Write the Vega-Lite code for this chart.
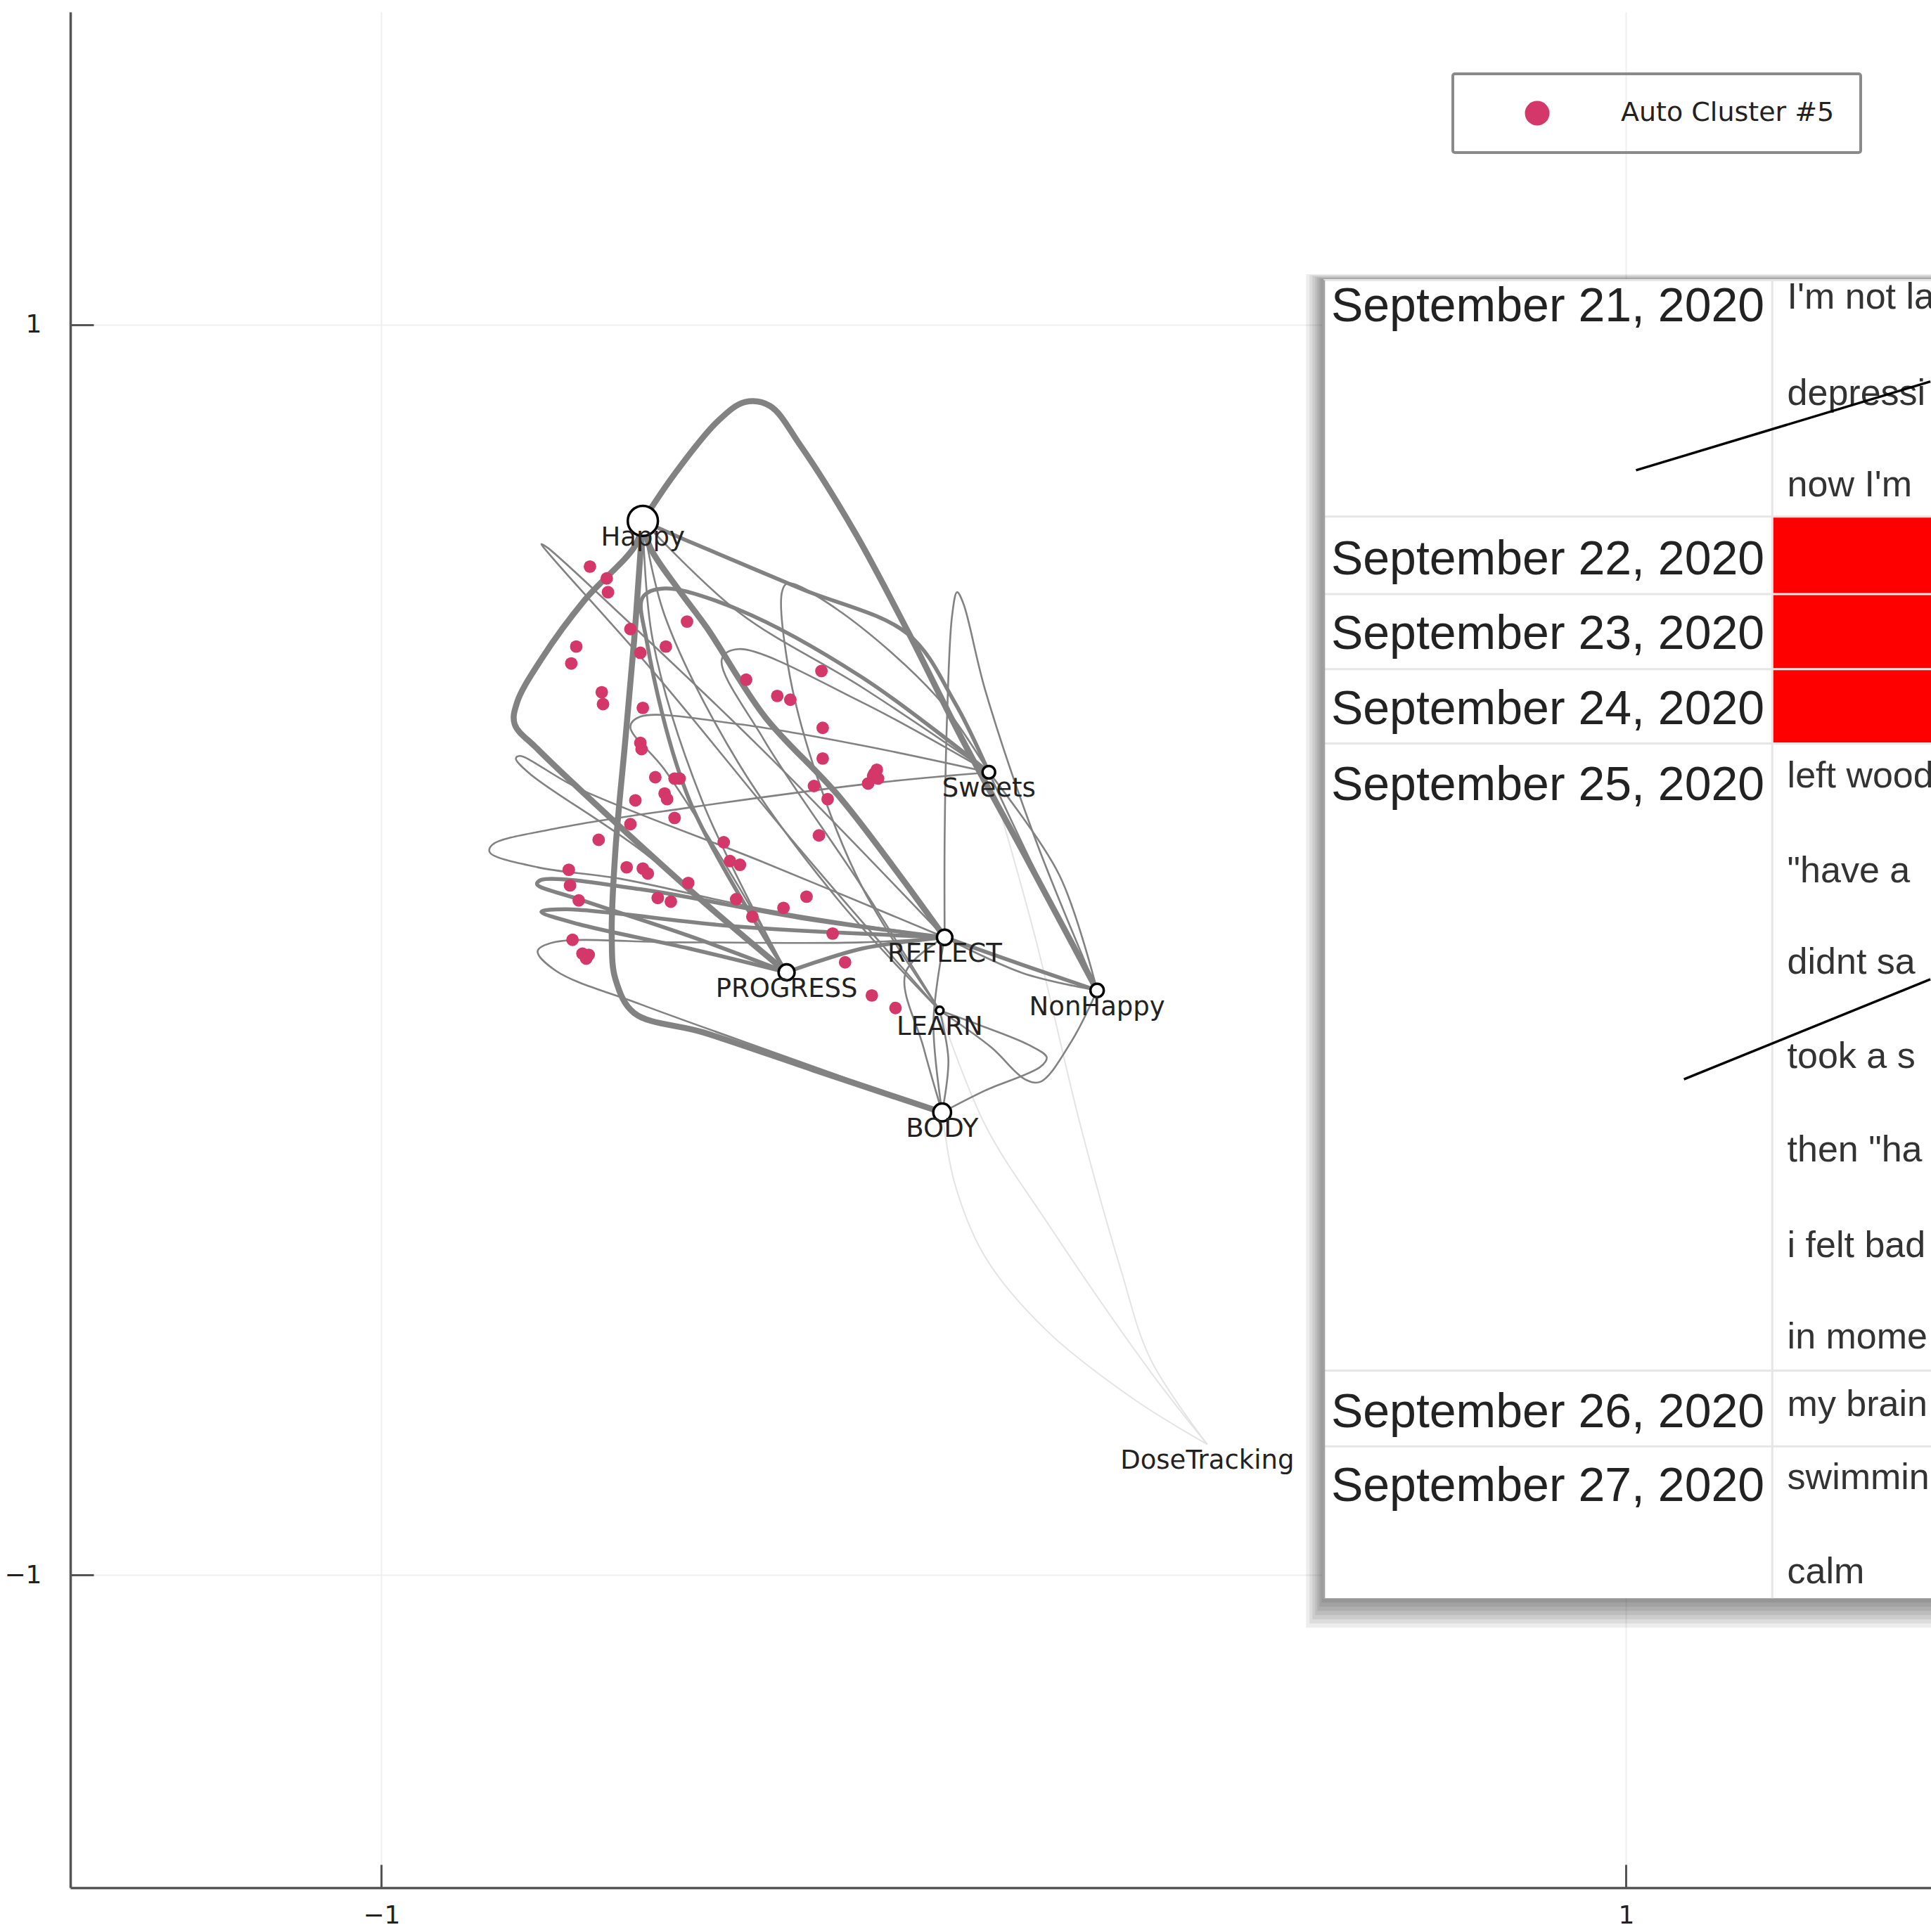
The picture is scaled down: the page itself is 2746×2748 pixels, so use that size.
{
  "$schema": "https://vega.github.io/schema/vega-lite/v6.json",
  "width": 2646,
  "height": 2668,
  "autosize": {"type": "none"},
  "padding": {"left": 100, "top": 17, "right": 0, "bottom": 63},
  "background": "white",
  "config": {
    "view": {"stroke": null},
    "axis": {
      "grid": true, "gridColor": "#efefef", "gridWidth": 2,
      "domainColor": "#555555", "domainWidth": 3.5,
      "tickColor": "#555555", "tickWidth": 3, "tickSize": -33,
      "labelFont": "DejaVu Sans", "labelFontSize": 36, "labelColor": "#222222"
    },
    "axisX": {"labelPadding": 55},
    "axisY": {"labelPadding": 74}
  },
  "datasets": {
    "edges": [
      {"e":"E1","i":0,"x":-0.580,"y":0.686,"w":4},{"e":"E1","i":1,"x":-0.529,"y":0.761,"w":4},{"e":"E1","i":2,"x":-0.459,"y":0.846,"w":4},{"e":"E1","i":3,"x":-0.416,"y":0.876,"w":4},{"e":"E1","i":4,"x":-0.376,"y":0.870,"w":4},{"e":"E1","i":5,"x":-0.327,"y":0.807,"w":4},{"e":"E1","i":6,"x":-0.240,"y":0.669,"w":4},{"e":"E1","i":7,"x":-0.154,"y":0.509,"w":4},{"e":"E1","i":8,"x":-0.069,"y":0.341,"w":4},{"e":"E1","i":9,"x":0.040,"y":0.140,"w":4},{"e":"E1","i":10,"x":0.150,"y":-0.065,"w":4},
      {"e":"E2","i":0,"x":-0.580,"y":0.686,"w":4},{"e":"E2","i":1,"x":-0.592,"y":0.647,"w":4},{"e":"E2","i":2,"x":-0.673,"y":0.560,"w":4},{"e":"E2","i":3,"x":-0.743,"y":0.465,"w":4},{"e":"E2","i":4,"x":-0.782,"y":0.396,"w":4},{"e":"E2","i":5,"x":-0.786,"y":0.361,"w":4},{"e":"E2","i":6,"x":-0.749,"y":0.321,"w":4},{"e":"E2","i":7,"x":-0.632,"y":0.211,"w":4},{"e":"E2","i":8,"x":-0.483,"y":0.077,"w":4},{"e":"E2","i":9,"x":-0.349,"y":-0.036,"w":4},
      {"e":"E3","i":0,"x":-0.580,"y":0.686,"w":4},{"e":"E3","i":1,"x":-0.584,"y":0.633,"w":4},{"e":"E3","i":2,"x":-0.594,"y":0.495,"w":4},{"e":"E3","i":3,"x":-0.608,"y":0.337,"w":4},{"e":"E3","i":4,"x":-0.624,"y":0.160,"w":4},{"e":"E3","i":5,"x":-0.630,"y":0.022,"w":4},{"e":"E3","i":6,"x":-0.624,"y":-0.047,"w":4},{"e":"E3","i":7,"x":-0.594,"y":-0.101,"w":4},{"e":"E3","i":8,"x":-0.483,"y":-0.132,"w":4},{"e":"E3","i":9,"x":-0.307,"y":-0.191,"w":4},{"e":"E3","i":10,"x":-0.099,"y":-0.260,"w":4},
      {"e":"E4","i":0,"x":-0.580,"y":0.686,"w":4},{"e":"E4","i":1,"x":-0.568,"y":0.643,"w":4},{"e":"E4","i":2,"x":-0.521,"y":0.574,"w":4},{"e":"E4","i":3,"x":-0.477,"y":0.515,"w":4},{"e":"E4","i":4,"x":-0.384,"y":0.373,"w":4},{"e":"E4","i":5,"x":-0.261,"y":0.241,"w":4},{"e":"E4","i":6,"x":-0.095,"y":0.020,"w":4},
      {"e":"E5","i":0,"x":-0.580,"y":0.686,"w":3},{"e":"E5","i":1,"x":-0.515,"y":0.657,"w":3},{"e":"E5","i":2,"x":-0.327,"y":0.578,"w":3},{"e":"E5","i":3,"x":-0.154,"y":0.505,"w":3},{"e":"E5","i":4,"x":-0.079,"y":0.396,"w":3},{"e":"E5","i":5,"x":-0.024,"y":0.284,"w":3},
      {"e":"E6","i":0,"x":-0.095,"y":0.020,"w":3},{"e":"E6","i":1,"x":0.030,"y":-0.024,"w":3},{"e":"E6","i":2,"x":0.150,"y":-0.065,"w":3},
      {"e":"E6b","i":0,"x":-0.095,"y":0.020,"w":2},{"e":"E6b","i":1,"x":0.030,"y":-0.037,"w":2},{"e":"E6b","i":2,"x":0.150,"y":-0.065,"w":2},
      {"e":"E7a","i":0,"x":-0.095,"y":0.020,"w":3},{"e":"E7a","i":1,"x":-0.327,"y":0.051,"w":3},{"e":"E7a","i":2,"x":-0.584,"y":0.097,"w":3},{"e":"E7a","i":3,"x":-0.743,"y":0.112,"w":3},{"e":"E7a","i":4,"x":-0.750,"y":0.105,"w":3},{"e":"E7a","i":5,"x":-0.683,"y":0.081,"w":3},{"e":"E7a","i":6,"x":-0.505,"y":0.022,"w":3},{"e":"E7a","i":7,"x":-0.349,"y":-0.036,"w":3},
      {"e":"E7b","i":0,"x":-0.095,"y":0.020,"w":3},{"e":"E7b","i":1,"x":-0.426,"y":0.037,"w":3},{"e":"E7b","i":2,"x":-0.703,"y":0.065,"w":3},{"e":"E7b","i":3,"x":-0.743,"y":0.061,"w":3},{"e":"E7b","i":4,"x":-0.683,"y":0.041,"w":3},{"e":"E7b","i":5,"x":-0.505,"y":0.002,"w":3},{"e":"E7b","i":6,"x":-0.349,"y":-0.036,"w":3},
      {"e":"E7c","i":0,"x":-0.095,"y":0.020,"w":2},{"e":"E7c","i":1,"x":-0.228,"y":0.012,"w":2},{"e":"E7c","i":2,"x":-0.525,"y":0.012,"w":2},{"e":"E7c","i":3,"x":-0.723,"y":0.012,"w":2},{"e":"E7c","i":4,"x":-0.749,"y":-0.002,"w":2},{"e":"E7c","i":5,"x":-0.719,"y":-0.034,"w":2},{"e":"E7c","i":6,"x":-0.584,"y":-0.087,"w":2},{"e":"E7c","i":7,"x":-0.347,"y":-0.172,"w":2},{"e":"E7c","i":8,"x":-0.099,"y":-0.260,"w":2},
      {"e":"E8","i":0,"x":-0.024,"y":0.284,"w":2},{"e":"E8","i":1,"x":-0.196,"y":0.268,"w":2},{"e":"E8","i":2,"x":-0.509,"y":0.227,"w":2},{"e":"E8","i":3,"x":-0.715,"y":0.195,"w":2},{"e":"E8","i":4,"x":-0.822,"y":0.168,"w":2},{"e":"E8","i":5,"x":-0.826,"y":0.156,"w":2},{"e":"E8","i":6,"x":-0.749,"y":0.132,"w":2},{"e":"E8","i":7,"x":-0.618,"y":0.114,"w":2},{"e":"E8","i":8,"x":-0.386,"y":0.065,"w":2},{"e":"E8","i":9,"x":-0.095,"y":0.020,"w":2},
      {"e":"E9","i":0,"x":-0.095,"y":0.020,"w":2},{"e":"E9","i":1,"x":-0.095,"y":0.179,"w":2},{"e":"E9","i":2,"x":-0.091,"y":0.377,"w":2},{"e":"E9","i":3,"x":-0.083,"y":0.535,"w":2},{"e":"E9","i":4,"x":-0.075,"y":0.572,"w":2},{"e":"E9","i":5,"x":-0.065,"y":0.554,"w":2},{"e":"E9","i":6,"x":-0.030,"y":0.416,"w":2},{"e":"E9","i":7,"x":0.050,"y":0.179,"w":2},{"e":"E9","i":8,"x":0.150,"y":-0.065,"w":2},
      {"e":"E10","i":0,"x":-0.024,"y":0.284,"w":2},{"e":"E10","i":1,"x":0.059,"y":0.110,"w":2},{"e":"E10","i":2,"x":0.150,"y":-0.065,"w":2},
      {"e":"E10b","i":0,"x":-0.024,"y":0.284,"w":2},{"e":"E10b","i":1,"x":0.089,"y":0.120,"w":2},{"e":"E10b","i":2,"x":0.150,"y":-0.065,"w":2},
      {"e":"E11","i":0,"x":-0.095,"y":0.020,"w":2},{"e":"E11","i":1,"x":-0.386,"y":0.318,"w":2},{"e":"E11","i":2,"x":-0.624,"y":0.544,"w":2},{"e":"E11","i":3,"x":-0.733,"y":0.643,"w":2},{"e":"E11","i":4,"x":-0.743,"y":0.649,"w":2},{"e":"E11","i":5,"x":-0.727,"y":0.629,"w":2},{"e":"E11","i":6,"x":-0.564,"y":0.446,"w":2},{"e":"E11","i":7,"x":-0.327,"y":0.160,"w":2},{"e":"E11","i":8,"x":-0.103,"y":-0.097,"w":2},
      {"e":"E12","i":0,"x":-0.095,"y":0.020,"w":2},{"e":"E12","i":1,"x":-0.386,"y":0.140,"w":2},{"e":"E12","i":2,"x":-0.683,"y":0.258,"w":2},{"e":"E12","i":3,"x":-0.778,"y":0.310,"w":2},{"e":"E12","i":4,"x":-0.784,"y":0.306,"w":2},{"e":"E12","i":5,"x":-0.762,"y":0.282,"w":2},{"e":"E12","i":6,"x":-0.584,"y":0.160,"w":2},{"e":"E12","i":7,"x":-0.349,"y":-0.036,"w":2},
      {"e":"E13","i":0,"x":-0.024,"y":0.284,"w":2},{"e":"E13","i":1,"x":-0.109,"y":0.406,"w":2},{"e":"E13","i":2,"x":-0.267,"y":0.544,"w":2},{"e":"E13","i":3,"x":-0.347,"y":0.586,"w":2},{"e":"E13","i":4,"x":-0.356,"y":0.574,"w":2},{"e":"E13","i":5,"x":-0.347,"y":0.456,"w":2},{"e":"E13","i":6,"x":-0.307,"y":0.298,"w":2},{"e":"E13","i":7,"x":-0.228,"y":0.101,"w":2},{"e":"E13","i":8,"x":-0.103,"y":-0.097,"w":2},
      {"e":"E14","i":0,"x":-0.349,"y":-0.036,"w":2},{"e":"E14","i":1,"x":-0.426,"y":0.101,"w":2},{"e":"E14","i":2,"x":-0.545,"y":0.288,"w":2},{"e":"E14","i":3,"x":-0.600,"y":0.357,"w":2},{"e":"E14","i":4,"x":-0.584,"y":0.373,"w":2},{"e":"E14","i":5,"x":-0.426,"y":0.361,"w":2},{"e":"E14","i":6,"x":-0.228,"y":0.327,"w":2},{"e":"E14","i":7,"x":-0.024,"y":0.284,"w":2},
      {"e":"E15","i":0,"x":-0.349,"y":-0.036,"w":3},{"e":"E15","i":1,"x":-0.505,"y":0.239,"w":3},{"e":"E15","i":2,"x":-0.574,"y":0.495,"w":3},{"e":"E15","i":3,"x":-0.580,"y":0.564,"w":3},{"e":"E15","i":4,"x":-0.545,"y":0.578,"w":3},{"e":"E15","i":5,"x":-0.426,"y":0.544,"w":3},{"e":"E15","i":6,"x":-0.228,"y":0.436,"w":3},{"e":"E15","i":7,"x":-0.024,"y":0.284,"w":3},
      {"e":"E16","i":0,"x":-0.580,"y":0.686,"w":2},{"e":"E16","i":1,"x":-0.545,"y":0.535,"w":2},{"e":"E16","i":2,"x":-0.426,"y":0.298,"w":2},{"e":"E16","i":3,"x":-0.267,"y":0.081,"w":2},{"e":"E16","i":4,"x":-0.103,"y":-0.097,"w":2},
      {"e":"E17","i":0,"x":-0.580,"y":0.686,"w":2},{"e":"E17","i":1,"x":-0.564,"y":0.495,"w":2},{"e":"E17","i":2,"x":-0.485,"y":0.239,"w":2},{"e":"E17","i":3,"x":-0.349,"y":-0.036,"w":2},
      {"e":"E18","i":0,"x":-0.095,"y":0.020,"w":2},{"e":"E18","i":1,"x":-0.113,"y":-0.116,"w":2},{"e":"E18","i":2,"x":-0.099,"y":-0.260,"w":2},
      {"e":"E18b","i":0,"x":-0.103,"y":-0.097,"w":2},{"e":"E18b","i":1,"x":-0.089,"y":-0.176,"w":2},{"e":"E18b","i":2,"x":-0.099,"y":-0.260,"w":2},
      {"e":"E18c","i":0,"x":-0.095,"y":0.020,"w":2},{"e":"E18c","i":1,"x":-0.158,"y":-0.037,"w":2},{"e":"E18c","i":2,"x":-0.129,"y":-0.156,"w":2},{"e":"E18c","i":3,"x":-0.099,"y":-0.260,"w":2},
      {"e":"E19","i":0,"x":-0.099,"y":-0.260,"w":2},{"e":"E19","i":1,"x":-0.030,"y":-0.225,"w":2},{"e":"E19","i":2,"x":0.059,"y":-0.187,"w":2},{"e":"E19","i":3,"x":0.069,"y":-0.172,"w":2},{"e":"E19","i":4,"x":0.040,"y":-0.152,"w":2},{"e":"E19","i":5,"x":-0.040,"y":-0.120,"w":2},{"e":"E19","i":6,"x":-0.103,"y":-0.097,"w":2},
      {"e":"E20","i":0,"x":0.150,"y":-0.065,"w":2},{"e":"E20","i":1,"x":0.109,"y":-0.146,"w":2},{"e":"E20","i":2,"x":0.059,"y":-0.211,"w":2},{"e":"E20","i":3,"x":0.034,"y":-0.207,"w":2},{"e":"E20","i":4,"x":-0.020,"y":-0.156,"w":2},{"e":"E20","i":5,"x":-0.103,"y":-0.097,"w":2},
      {"e":"E21","i":0,"x":-0.349,"y":-0.036,"w":3},{"e":"E21","i":1,"x":-0.228,"y":0.002,"w":3},{"e":"E21","i":2,"x":-0.095,"y":0.020,"w":3},
      {"e":"E22","i":0,"x":-0.103,"y":-0.097,"w":2},{"e":"E22","i":1,"x":-0.228,"y":0.101,"w":2},{"e":"E22","i":2,"x":-0.386,"y":0.337,"w":2},{"e":"E22","i":3,"x":-0.453,"y":0.465,"w":2},{"e":"E22","i":4,"x":-0.426,"y":0.481,"w":2},{"e":"E22","i":5,"x":-0.228,"y":0.396,"w":2},{"e":"E22","i":6,"x":-0.024,"y":0.284,"w":2},
      {"e":"E23","i":0,"x":-0.580,"y":0.686,"w":2},{"e":"E23","i":1,"x":-0.426,"y":0.540,"w":2},{"e":"E23","i":2,"x":-0.228,"y":0.420,"w":2},{"e":"E23","i":3,"x":-0.024,"y":0.284,"w":2},
      {"e":"F1","i":0,"x":-0.099,"y":-0.260,"w":1},{"e":"F1","i":1,"x":-0.079,"y":-0.373,"w":1},{"e":"F1","i":2,"x":-0.030,"y":-0.491,"w":1},{"e":"F1","i":3,"x":0.069,"y":-0.609,"w":1},{"e":"F1","i":4,"x":0.208,"y":-0.718,"w":1},{"e":"F1","i":5,"x":0.327,"y":-0.791,"w":1},
      {"e":"F2","i":0,"x":-0.103,"y":-0.097,"w":1},{"e":"F2","i":1,"x":-0.030,"y":-0.280,"w":1},{"e":"F2","i":2,"x":0.071,"y":-0.438,"w":1},{"e":"F2","i":3,"x":0.236,"y":-0.675,"w":1},{"e":"F2","i":4,"x":0.327,"y":-0.791,"w":1},
      {"e":"F3","i":0,"x":-0.024,"y":0.284,"w":1},{"e":"F3","i":1,"x":0.050,"y":0.022,"w":1},{"e":"F3","i":2,"x":0.123,"y":-0.280,"w":1},{"e":"F3","i":3,"x":0.188,"y":-0.511,"w":1},{"e":"F3","i":4,"x":0.236,"y":-0.655,"w":1},{"e":"F3","i":5,"x":0.327,"y":-0.791,"w":1}
    ],
    "dots": [
      {"x":-0.665,"y":0.613,"cluster":"Auto Cluster #5"},{"x":-0.638,"y":0.594,"cluster":"Auto Cluster #5"},{"x":-0.636,"y":0.572,"cluster":"Auto Cluster #5"},{"x":-0.509,"y":0.525,"cluster":"Auto Cluster #5"},{"x":-0.600,"y":0.513,"cluster":"Auto Cluster #5"},{"x":-0.687,"y":0.485,"cluster":"Auto Cluster #5"},{"x":-0.543,"y":0.485,"cluster":"Auto Cluster #5"},{"x":-0.695,"y":0.458,"cluster":"Auto Cluster #5"},{"x":-0.584,"y":0.475,"cluster":"Auto Cluster #5"},{"x":-0.414,"y":0.432,"cluster":"Auto Cluster #5"},
      {"x":-0.293,"y":0.446,"cluster":"Auto Cluster #5"},{"x":-0.646,"y":0.412,"cluster":"Auto Cluster #5"},{"x":-0.644,"y":0.393,"cluster":"Auto Cluster #5"},{"x":-0.364,"y":0.406,"cluster":"Auto Cluster #5"},{"x":-0.343,"y":0.400,"cluster":"Auto Cluster #5"},{"x":-0.580,"y":0.387,"cluster":"Auto Cluster #5"},{"x":-0.291,"y":0.355,"cluster":"Auto Cluster #5"},{"x":-0.584,"y":0.331,"cluster":"Auto Cluster #5"},{"x":-0.582,"y":0.321,"cluster":"Auto Cluster #5"},{"x":-0.291,"y":0.306,"cluster":"Auto Cluster #5"},
      {"x":-0.204,"y":0.288,"cluster":"Auto Cluster #5"},{"x":-0.210,"y":0.278,"cluster":"Auto Cluster #5"},{"x":-0.218,"y":0.266,"cluster":"Auto Cluster #5"},{"x":-0.560,"y":0.276,"cluster":"Auto Cluster #5"},{"x":-0.529,"y":0.274,"cluster":"Auto Cluster #5"},{"x":-0.521,"y":0.274,"cluster":"Auto Cluster #5"},{"x":-0.545,"y":0.250,"cluster":"Auto Cluster #5"},{"x":-0.541,"y":0.241,"cluster":"Auto Cluster #5"},{"x":-0.305,"y":0.262,"cluster":"Auto Cluster #5"},{"x":-0.283,"y":0.241,"cluster":"Auto Cluster #5"},
      {"x":-0.592,"y":0.239,"cluster":"Auto Cluster #5"},{"x":-0.529,"y":0.211,"cluster":"Auto Cluster #5"},{"x":-0.600,"y":0.201,"cluster":"Auto Cluster #5"},{"x":-0.297,"y":0.183,"cluster":"Auto Cluster #5"},{"x":-0.651,"y":0.176,"cluster":"Auto Cluster #5"},{"x":-0.450,"y":0.172,"cluster":"Auto Cluster #5"},{"x":-0.440,"y":0.142,"cluster":"Auto Cluster #5"},{"x":-0.424,"y":0.136,"cluster":"Auto Cluster #5"},{"x":-0.699,"y":0.128,"cluster":"Auto Cluster #5"},{"x":-0.606,"y":0.132,"cluster":"Auto Cluster #5"},
      {"x":-0.580,"y":0.130,"cluster":"Auto Cluster #5"},{"x":-0.572,"y":0.122,"cluster":"Auto Cluster #5"},{"x":-0.697,"y":0.103,"cluster":"Auto Cluster #5"},{"x":-0.507,"y":0.107,"cluster":"Auto Cluster #5"},{"x":-0.683,"y":0.079,"cluster":"Auto Cluster #5"},{"x":-0.556,"y":0.083,"cluster":"Auto Cluster #5"},{"x":-0.535,"y":0.077,"cluster":"Auto Cluster #5"},{"x":-0.430,"y":0.081,"cluster":"Auto Cluster #5"},{"x":-0.317,"y":0.085,"cluster":"Auto Cluster #5"},{"x":-0.354,"y":0.067,"cluster":"Auto Cluster #5"},
      {"x":-0.404,"y":0.053,"cluster":"Auto Cluster #5"},{"x":-0.275,"y":0.026,"cluster":"Auto Cluster #5"},{"x":-0.693,"y":0.016,"cluster":"Auto Cluster #5"},{"x":-0.677,"y":-0.006,"cluster":"Auto Cluster #5"},{"x":-0.671,"y":-0.014,"cluster":"Auto Cluster #5"},{"x":-0.667,"y":-0.008,"cluster":"Auto Cluster #5"},{"x":-0.255,"y":-0.020,"cluster":"Auto Cluster #5"},{"x":-0.212,"y":-0.073,"cluster":"Auto Cluster #5"},{"x":-0.174,"y":-0.093,"cluster":"Auto Cluster #5"},{"x":-0.202,"y":0.274,"cluster":"Auto Cluster #5"},
      {"x":-0.208,"y":0.282,"cluster":"Auto Cluster #5"}
    ],
    "nodes": [
      {"name":"Happy","x":-0.580,"y":0.686,"n":46},
      {"name":"Sweets","x":-0.024,"y":0.284,"n":8},
      {"name":"REFLECT","x":-0.095,"y":0.020,"n":12},
      {"name":"PROGRESS","x":-0.349,"y":-0.036,"n":13},
      {"name":"LEARN","x":-0.103,"y":-0.097,"n":3},
      {"name":"NonHappy","x":0.150,"y":-0.065,"n":9},
      {"name":"BODY","x":-0.099,"y":-0.260,"n":16},
      {"name":"DoseTracking","x":0.327,"y":-0.791,"n":0}
    ],
    "tablebox": [{"x":0.514,"x2":1.49,"y":1.071,"y2":-1.037}],
    "rows": [
      {"date":"September 21, 2020","top":1.071,"bottom":0.693,"base":1.005,"missing":false},
      {"date":"September 22, 2020","top":0.693,"bottom":0.569,"base":0.600,"missing":true},
      {"date":"September 23, 2020","top":0.569,"bottom":0.449,"base":0.481,"missing":true},
      {"date":"September 24, 2020","top":0.449,"bottom":0.330,"base":0.361,"missing":true},
      {"date":"September 25, 2020","top":0.330,"bottom":-0.673,"base":0.240,"missing":false},
      {"date":"September 26, 2020","top":-0.673,"bottom":-0.794,"base":-0.764,"missing":false},
      {"date":"September 27, 2020","top":-0.794,"bottom":-1.037,"base":-0.882,"missing":false}
    ],
    "lines": [
      {"t":"I'm not la","y":1.026},
      {"t":"depressi","y":0.872},
      {"t":"now I'm","y":0.725},
      {"t":"left wood","y":0.260},
      {"t":"\"have a","y":0.108},
      {"t":"didnt sa","y":-0.038},
      {"t":"took a s","y":-0.189},
      {"t":"then \"ha","y":-0.339},
      {"t":"i felt bad","y":-0.491},
      {"t":"in mome","y":-0.637},
      {"t":"my brain","y":-0.746},
      {"t":"swimmin","y":-0.862},
      {"t":"calm","y":-1.013}
    ],
    "pointers": [
      {"p":"a","i":0,"x":1.016,"y":0.767},{"p":"a","i":1,"x":1.489,"y":0.909},
      {"p":"b","i":0,"x":1.093,"y":-0.207},{"p":"b","i":1,"x":1.489,"y":-0.047}
    ]
  },
  "layer": [
    {
      "data": {"name": "edges"},
      "transform": [{"filter": "datum.w == 1"}],
      "mark": {"type": "line", "interpolate": "catmull-rom", "color": "#e4e4e4", "strokeWidth": 2},
      "encoding": {
        "x": {"field": "x", "type": "quantitative", "scale": {"domain": [-1.5, 1.49], "nice": false, "zero": false}, "axis": {"title": null, "values": [-1, 1]}},
        "y": {"field": "y", "type": "quantitative", "scale": {"domain": [-1.5, 1.5], "nice": false, "zero": false}, "axis": {"title": null, "values": [-1, 1]}},
        "detail": {"field": "e"},
        "order": {"field": "i", "type": "quantitative"}
      }
    },
    {
      "data": {"name": "edges"},
      "transform": [{"filter": "datum.w > 1"}],
      "mark": {"type": "line", "interpolate": "catmull-rom", "color": "#828282", "strokeCap": "round", "strokeJoin": "round"},
      "encoding": {
        "x": {"field": "x", "type": "quantitative", "scale": {"domain": [-1.5, 1.49], "nice": false, "zero": false}, "axis": {"title": null, "values": [-1, 1]}},
        "y": {"field": "y", "type": "quantitative", "scale": {"domain": [-1.5, 1.5], "nice": false, "zero": false}, "axis": {"title": null, "values": [-1, 1]}},
        "detail": {"field": "e"},
        "order": {"field": "i", "type": "quantitative"},
        "strokeWidth": {"field": "w", "type": "quantitative", "scale": {"domain": [2, 4], "range": [2.6, 8.5]}, "legend": null}
      }
    },
    {
      "data": {"name": "dots"},
      "mark": {"type": "point", "filled": true, "size": 320, "opacity": 1, "strokeWidth": 0},
      "encoding": {
        "x": {"field": "x", "type": "quantitative", "scale": {"domain": [-1.5, 1.49], "nice": false, "zero": false}, "axis": {"title": null, "values": [-1, 1]}},
        "y": {"field": "y", "type": "quantitative", "scale": {"domain": [-1.5, 1.5], "nice": false, "zero": false}, "axis": {"title": null, "values": [-1, 1]}},
        "color": {
          "field": "cluster", "type": "nominal",
          "scale": {"range": ["#d4376a"]},
          "legend": {
            "orient": "none", "legendX": 1966, "legendY": 88, "title": null,
            "padding": 37, "strokeColor": "#8a8a8a", "cornerRadius": 3,
            "symbolType": "circle", "symbolSize": 1225, "symbolStrokeWidth": 0, "symbolOpacity": 1,
            "symbolOffset": 64, "labelOffset": 100, "labelLimit": 800,
            "labelFont": "DejaVu Sans", "labelFontSize": 38, "labelColor": "#222222",
            "encode": {"legend": {"update": {"strokeWidth": {"value": 4}}}}
          }
        }
      }
    },
    {
      "data": {"name": "nodes"},
      "transform": [{"filter": "datum.n > 0"}],
      "mark": {"type": "point", "shape": "circle", "filled": true, "fill": "white", "stroke": "black", "strokeWidth": 3.5, "opacity": 1},
      "encoding": {
        "x": {"field": "x", "type": "quantitative", "scale": {"domain": [-1.5, 1.49], "nice": false, "zero": false}, "axis": {"title": null, "values": [-1, 1]}},
        "y": {"field": "y", "type": "quantitative", "scale": {"domain": [-1.5, 1.5], "nice": false, "zero": false}, "axis": {"title": null, "values": [-1, 1]}},
        "size": {"field": "n", "type": "quantitative", "scale": {"type": "linear", "domain": [0, 50], "range": [0, 2000]}, "legend": null}
      }
    },
    {
      "data": {"name": "nodes"},
      "mark": {"type": "text", "dy": 24, "font": "DejaVu Sans", "fontSize": 37, "color": "#222222", "align": "center", "baseline": "middle"},
      "encoding": {
        "x": {"field": "x", "type": "quantitative", "scale": {"domain": [-1.5, 1.49], "nice": false, "zero": false}, "axis": {"title": null, "values": [-1, 1]}},
        "y": {"field": "y", "type": "quantitative", "scale": {"domain": [-1.5, 1.5], "nice": false, "zero": false}, "axis": {"title": null, "values": [-1, 1]}},
        "text": {"field": "name"}
      }
    },
    {"data": {"name": "tablebox"}, "mark": {"type": "rect", "color": "black", "opacity": 0.07, "xOffset": -3, "yOffset": -1.2, "y2Offset": 6},
     "encoding": {"x": {"field": "x", "type": "quantitative", "scale": {"domain": [-1.5, 1.49], "nice": false, "zero": false}, "axis": {"title": null, "values": [-1, 1]}}, "x2": {"field": "x2"}, "y": {"field": "y", "type": "quantitative", "scale": {"domain": [-1.5, 1.5], "nice": false, "zero": false}, "axis": {"title": null, "values": [-1, 1]}}, "y2": {"field": "y2"}}},
    {"data": {"name": "tablebox"}, "mark": {"type": "rect", "color": "black", "opacity": 0.07, "xOffset": -6, "yOffset": -2.4, "y2Offset": 12},
     "encoding": {"x": {"field": "x", "type": "quantitative", "scale": {"domain": [-1.5, 1.49], "nice": false, "zero": false}, "axis": {"title": null, "values": [-1, 1]}}, "x2": {"field": "x2"}, "y": {"field": "y", "type": "quantitative", "scale": {"domain": [-1.5, 1.5], "nice": false, "zero": false}, "axis": {"title": null, "values": [-1, 1]}}, "y2": {"field": "y2"}}},
    {"data": {"name": "tablebox"}, "mark": {"type": "rect", "color": "black", "opacity": 0.07, "xOffset": -9, "yOffset": -3.6, "y2Offset": 18},
     "encoding": {"x": {"field": "x", "type": "quantitative", "scale": {"domain": [-1.5, 1.49], "nice": false, "zero": false}, "axis": {"title": null, "values": [-1, 1]}}, "x2": {"field": "x2"}, "y": {"field": "y", "type": "quantitative", "scale": {"domain": [-1.5, 1.5], "nice": false, "zero": false}, "axis": {"title": null, "values": [-1, 1]}}, "y2": {"field": "y2"}}},
    {"data": {"name": "tablebox"}, "mark": {"type": "rect", "color": "black", "opacity": 0.07, "xOffset": -12, "yOffset": -4.8, "y2Offset": 24},
     "encoding": {"x": {"field": "x", "type": "quantitative", "scale": {"domain": [-1.5, 1.49], "nice": false, "zero": false}, "axis": {"title": null, "values": [-1, 1]}}, "x2": {"field": "x2"}, "y": {"field": "y", "type": "quantitative", "scale": {"domain": [-1.5, 1.5], "nice": false, "zero": false}, "axis": {"title": null, "values": [-1, 1]}}, "y2": {"field": "y2"}}},
    {"data": {"name": "tablebox"}, "mark": {"type": "rect", "color": "black", "opacity": 0.07, "xOffset": -16, "yOffset": -6, "y2Offset": 30},
     "encoding": {"x": {"field": "x", "type": "quantitative", "scale": {"domain": [-1.5, 1.49], "nice": false, "zero": false}, "axis": {"title": null, "values": [-1, 1]}}, "x2": {"field": "x2"}, "y": {"field": "y", "type": "quantitative", "scale": {"domain": [-1.5, 1.5], "nice": false, "zero": false}, "axis": {"title": null, "values": [-1, 1]}}, "y2": {"field": "y2"}}},
    {"data": {"name": "tablebox"}, "mark": {"type": "rect", "color": "black", "opacity": 0.07, "xOffset": -20, "yOffset": -7.2, "y2Offset": 36},
     "encoding": {"x": {"field": "x", "type": "quantitative", "scale": {"domain": [-1.5, 1.49], "nice": false, "zero": false}, "axis": {"title": null, "values": [-1, 1]}}, "x2": {"field": "x2"}, "y": {"field": "y", "type": "quantitative", "scale": {"domain": [-1.5, 1.5], "nice": false, "zero": false}, "axis": {"title": null, "values": [-1, 1]}}, "y2": {"field": "y2"}}},
    {"data": {"name": "tablebox"}, "mark": {"type": "rect", "color": "black", "opacity": 0.07, "xOffset": -25, "yOffset": -8.4, "y2Offset": 42},
     "encoding": {"x": {"field": "x", "type": "quantitative", "scale": {"domain": [-1.5, 1.49], "nice": false, "zero": false}, "axis": {"title": null, "values": [-1, 1]}}, "x2": {"field": "x2"}, "y": {"field": "y", "type": "quantitative", "scale": {"domain": [-1.5, 1.5], "nice": false, "zero": false}, "axis": {"title": null, "values": [-1, 1]}}, "y2": {"field": "y2"}}},
    {"data": {"name": "tablebox"}, "mark": {"type": "rect", "color": "white", "opacity": 1},
     "encoding": {"x": {"field": "x", "type": "quantitative", "scale": {"domain": [-1.5, 1.49], "nice": false, "zero": false}, "axis": {"title": null, "values": [-1, 1]}}, "x2": {"field": "x2"}, "y": {"field": "y", "type": "quantitative", "scale": {"domain": [-1.5, 1.5], "nice": false, "zero": false}, "axis": {"title": null, "values": [-1, 1]}}, "y2": {"field": "y2"}}},
    {
      "data": {"name": "rows"},
      "transform": [{"filter": "datum.missing"}],
      "mark": {"type": "rect", "color": "#ff0000", "opacity": 1},
      "encoding": {
        "x": {"datum": 1.235, "type": "quantitative", "scale": {"domain": [-1.5, 1.49], "nice": false, "zero": false}, "axis": {"title": null, "values": [-1, 1]}},
        "x2": {"datum": 1.49},
        "y": {"field": "top", "type": "quantitative", "scale": {"domain": [-1.5, 1.5], "nice": false, "zero": false}, "axis": {"title": null, "values": [-1, 1]}},
        "y2": {"field": "bottom"}
      }
    },
    {
      "data": {"name": "rows"},
      "mark": {"type": "rule", "color": "#e6e6e6", "strokeWidth": 3},
      "encoding": {
        "x": {"datum": 0.514, "type": "quantitative", "scale": {"domain": [-1.5, 1.49], "nice": false, "zero": false}, "axis": {"title": null, "values": [-1, 1]}},
        "x2": {"datum": 1.49},
        "y": {"field": "top", "type": "quantitative", "scale": {"domain": [-1.5, 1.5], "nice": false, "zero": false}, "axis": {"title": null, "values": [-1, 1]}}
      }
    },
    {
      "data": {"name": "tablebox"},
      "mark": {"type": "rule", "color": "#e6e6e6", "strokeWidth": 3},
      "encoding": {
        "x": {"datum": 1.235, "type": "quantitative", "scale": {"domain": [-1.5, 1.49], "nice": false, "zero": false}, "axis": {"title": null, "values": [-1, 1]}},
        "y": {"field": "y", "type": "quantitative", "scale": {"domain": [-1.5, 1.5], "nice": false, "zero": false}, "axis": {"title": null, "values": [-1, 1]}},
        "y2": {"field": "y2"}
      }
    },
    {
      "data": {"name": "tablebox"},
      "mark": {"type": "rule", "color": "#a0a0a0", "strokeWidth": 4},
      "encoding": {
        "x": {"field": "x", "type": "quantitative", "scale": {"domain": [-1.5, 1.49], "nice": false, "zero": false}, "axis": {"title": null, "values": [-1, 1]}},
        "y": {"field": "y", "type": "quantitative", "scale": {"domain": [-1.5, 1.5], "nice": false, "zero": false}, "axis": {"title": null, "values": [-1, 1]}},
        "y2": {"field": "y2"}
      }
    },
    {
      "data": {"name": "rows"},
      "mark": {"type": "text", "align": "left", "baseline": "alphabetic", "font": "Liberation Sans", "fontSize": 68, "color": "#222222"},
      "encoding": {
        "x": {"datum": 0.526, "type": "quantitative", "scale": {"domain": [-1.5, 1.49], "nice": false, "zero": false}, "axis": {"title": null, "values": [-1, 1]}},
        "y": {"field": "base", "type": "quantitative", "scale": {"domain": [-1.5, 1.5], "nice": false, "zero": false}, "axis": {"title": null, "values": [-1, 1]}},
        "text": {"field": "date"}
      }
    },
    {
      "data": {"name": "lines"},
      "mark": {"type": "text", "align": "left", "baseline": "alphabetic", "font": "Liberation Sans", "fontSize": 52, "color": "#333333"},
      "encoding": {
        "x": {"datum": 1.259, "type": "quantitative", "scale": {"domain": [-1.5, 1.49], "nice": false, "zero": false}, "axis": {"title": null, "values": [-1, 1]}},
        "y": {"field": "y", "type": "quantitative", "scale": {"domain": [-1.5, 1.5], "nice": false, "zero": false}, "axis": {"title": null, "values": [-1, 1]}},
        "text": {"field": "t"}
      }
    },
    {
      "data": {"name": "pointers"},
      "mark": {"type": "line", "color": "black", "strokeWidth": 3.5},
      "encoding": {
        "x": {"field": "x", "type": "quantitative", "scale": {"domain": [-1.5, 1.49], "nice": false, "zero": false}, "axis": {"title": null, "values": [-1, 1]}},
        "y": {"field": "y", "type": "quantitative", "scale": {"domain": [-1.5, 1.5], "nice": false, "zero": false}, "axis": {"title": null, "values": [-1, 1]}},
        "detail": {"field": "p"},
        "order": {"field": "i", "type": "quantitative"}
      }
    }
  ]
}
